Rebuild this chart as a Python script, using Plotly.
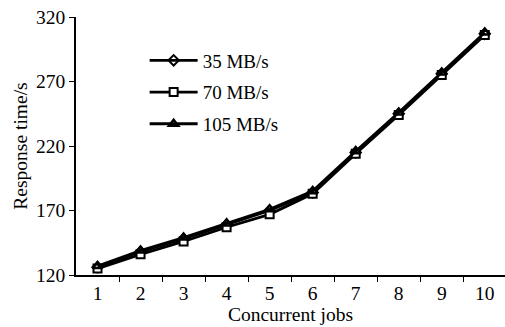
import plotly.graph_objects as go

# Concurrent job counts and mean response time (s) for each bandwidth
jobs = [1, 2, 3, 4, 5, 6, 7, 8, 9, 10]
resp_35 = [126, 138, 148, 159, 170, 184, 215, 245, 276, 307]
resp_70 = [125, 136, 146, 157, 167, 183, 214, 244, 275, 306]
resp_105 = [127, 139, 149, 160, 171, 185, 216, 246, 277, 308]

y_ticks = [120, 170, 220, 270, 320]
x_ticks = jobs

series = [
    ("35 MB/s", resp_35, dict(symbol="diamond-open", size=8, color="black", line=dict(width=2))),
    ("70 MB/s", resp_70, dict(symbol="square", size=8, color="white", line=dict(color="black", width=2))),
    ("105 MB/s", resp_105, dict(symbol="triangle-up-open", size=8, color="black", line=dict(color="black", width=2.5))),
]

fig = go.Figure()
for i, (name, vals, marker) in enumerate(series):
    fig.add_trace(go.Scatter(
        x=jobs, y=vals, name=name, mode="lines+markers",
        line=dict(color="black", width=2.8),
        marker=marker, legendgroup=f"g{i}",
    ))

font = "Liberation Serif, Times New Roman, serif"
fig.update_layout(
    width=505, height=327,
    margin=dict(l=76, r=0, t=17, b=52),
    paper_bgcolor="white", plot_bgcolor="white",
    font=dict(family=font, size=19, color="black"),
    showlegend=True,
    legend=dict(
        x=0.16, y=0.905, xanchor="left", yanchor="top",
        bgcolor="rgba(0,0,0,0)", font=dict(size=19),
        traceorder="grouped", tracegroupgap=4, itemwidth=48,
    ),
    xaxis=dict(
        range=[0.5, 10.47], tickvals=x_ticks, ticks="",
        showline=True, linecolor="black", linewidth=1.5,
        showgrid=False, zeroline=False,
        title=dict(text="Concurrent jobs", font=dict(size=19.5), standoff=4),
        tickfont=dict(size=19.5),
    ),
    yaxis=dict(
        range=[120, 320], tickvals=y_ticks, ticks="outside", ticklen=5,
        tickcolor="black", showline=True, linecolor="black", linewidth=1.5,
        showgrid=False, zeroline=False,
        title=dict(text="Response time/s", font=dict(size=19.5), standoff=3),
        tickfont=dict(size=19.5),
    ),
)

# Minor ticks between categories on the x axis
fig.update_xaxes(minor=dict(tickvals=[j + 0.5 for j in jobs[:-1]], ticks="outside",
                            ticklen=5, tickcolor="black"))

fig.write_html("out.html")
